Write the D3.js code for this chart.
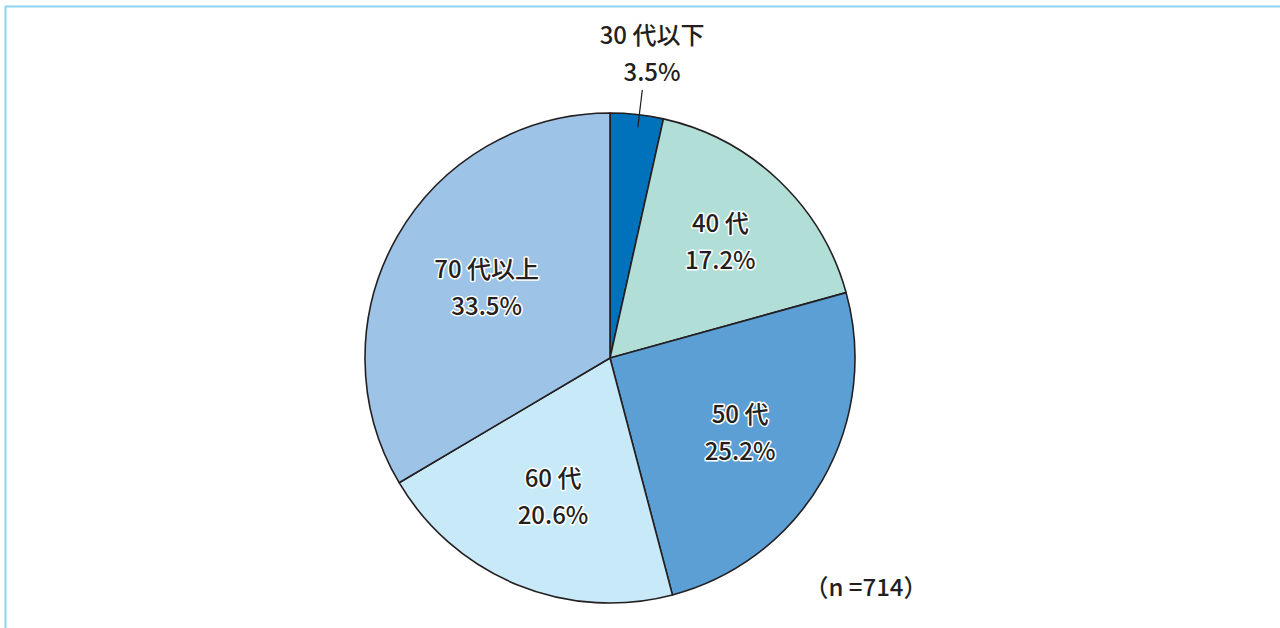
<!DOCTYPE html>
<html>
<head>
<meta charset="utf-8">
<script src="https://cdn.jsdelivr.net/npm/d3@7"></script>
<style>
  body { margin: 0; background: #fff; }
  svg { display: block; }
  text { font-family: "Noto Sans CJK JP", "Noto Sans", sans-serif; fill: #231f20; }
</style>
</head>
<body>
<div id="container"></div>
<script>
// age groups and share (%)
const categories = ["30 代以下", "40 代", "50 代", "60 代", "70 代以上"];
const values = [3.5, 17.2, 25.2, 20.6, 33.5];
const colors = ["#0072bc", "#b2ded8", "#5b9fd4", "#c8e9f8", "#9dc3e7"];
const note = "（n =714）";

const w = 1280;
const h = 628;
const cx = 610;
const cy = 358;
const radius = 245;
// label distance from centre, per slice (first one sits outside)
const labelRs = [0, 160, 150, 150, 142];

const data = categories.map((c, i) => ({ name: c, value: values[i], color: colors[i] }));

const svg = d3.select("div#container")
  .append("svg")
  .attr("width", w)
  .attr("height", h);

// frame (top + left)
svg.append("path")
  .attr("d", "M5.5,628 L5.5,6.5 L1280,6.5")
  .attr("fill", "none")
  .attr("stroke", "#8ed5f2")
  .attr("stroke-width", 2);

const pie = d3.pie()
  .value(d => d.value)
  .sort(null);

const arc = d3.arc()
  .innerRadius(0)
  .outerRadius(radius);

const g = svg.append("g")
  .attr("transform", "translate(" + cx + "," + cy + ")");

const arcs = pie(data);

g.selectAll("path.slice")
  .data(arcs)
  .enter()
  .append("path")
  .classed("slice", true)
  .attr("d", arc)
  .attr("fill", d => d.data.color)
  .attr("stroke", "#231f20")
  .attr("stroke-width", 1.6)
  .attr("stroke-linejoin", "round");

const polar = (r, a) => [Math.sin(a) * r, -Math.cos(a) * r];

arcs.forEach((d, i) => {
  const mid = (d.startAngle + d.endAngle) / 2;
  let x, y;
  if (i === 0) {
    // small slice: label outside with leader line
    const p1 = polar(232, mid + 0.01);
    const p2 = polar(270, mid + 0.01);
    g.append("line")
      .attr("x1", p1[0]).attr("y1", p1[1])
      .attr("x2", p2[0]).attr("y2", p2[1])
      .attr("stroke", "#231f20")
      .attr("stroke-width", 1.2);
    x = 42;
    y = -314;
  } else {
    const c = d3.arc().innerRadius(labelRs[i]).outerRadius(labelRs[i]).centroid(d);
    x = c[0];
    y = c[1] - 10;
  }
  const t = g.append("text")
    .attr("text-anchor", "middle")
    .attr("font-size", 24)
    .attr("font-weight", 500)
    .attr("stroke", i === 0 ? "none" : "#fff")
    .attr("stroke-width", 3)
    .attr("paint-order", "stroke")
    .attr("stroke-linejoin", "round");
  t.append("tspan")
    .attr("x", x).attr("y", y)
    .text(d.data.name);
  t.append("tspan")
    .attr("x", x).attr("y", y + 37)
    .text(d.data.value.toFixed(1) + "%");
});

svg.append("text")
  .attr("x", 866)
  .attr("y", 596)
  .attr("text-anchor", "middle")
  .attr("font-size", 24)
  .attr("font-weight", 500)
  .text(note);
</script>
</body>
</html>
